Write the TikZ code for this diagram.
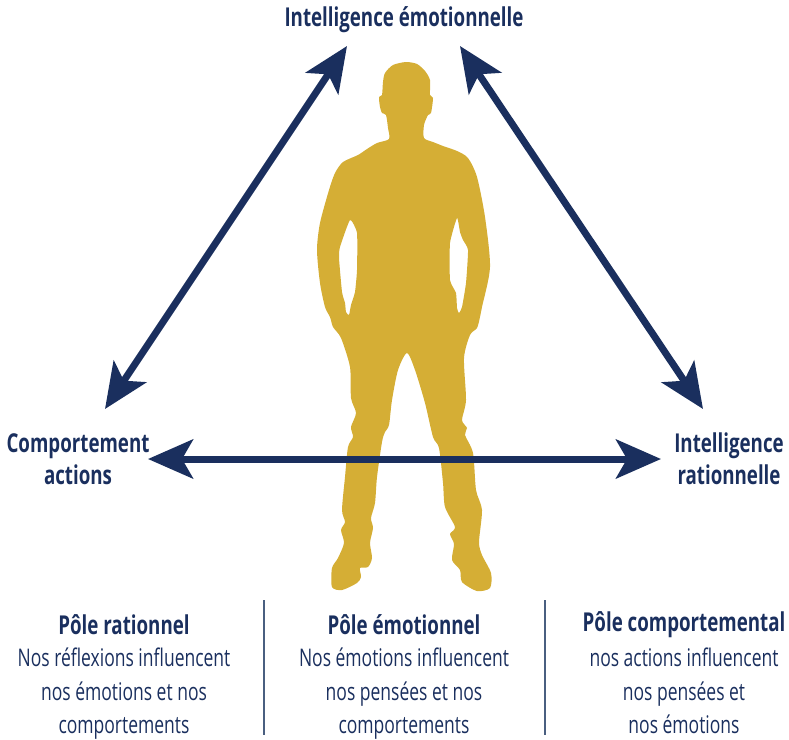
\documentclass[tikz,border=0pt]{standalone}
\usepackage{fontspec}
\usetikzlibrary{arrows.meta}
\setmainfont[FakeStretch=0.72]{Open Sans}
\definecolor{navy}{HTML}{1A2F5E}
\definecolor{gold}{HTML}{D5AE35}
\definecolor{rulecol}{HTML}{4A5F80}
\tikzset{
  dbl/.style={line width=7pt,draw=navy,{Stealth[length=45pt,width=39pt,inset=11pt,fill=navy]}-{Stealth[length=45pt,width=39pt,inset=11pt,fill=navy]}},
  head/.style={font=\fontsize{26}{32}\selectfont\bfseries,text=navy,align=center,inner sep=0pt},
  body/.style={font=\fontsize{24.3}{33.5}\selectfont,text=navy,align=center,inner sep=0pt,anchor=north},
  sep/.style={line width=1.4pt,draw=rulecol}
}
\begin{document}
\begin{tikzpicture}[x=1pt,y=-1pt]
\useasboundingbox (0,0) rectangle (789,739);
% silhouette
\fill[gold,even odd rule]
 plot[smooth cycle,tension=0.45] coordinates {
 (406,62)(393,65)(385,73)(383,82)(382,95)(379,97)(380,107)(382,113)(386,115)(388,128)(389,139)
 (377,143)(367,149)(358,155)(343,162)(335,173)(329,190)(320,223)(317,250)(320,283)(325,307)(330,317)
 (333,327)(341,338)(350,367)(351,398)(356,413)(351,427)(353,437)(348,447)(345,477)(342,510)(345,522)
 (341,530)(344,543)(338,558)(332,568)(332,587)(342,590)(357,583)(361,577)(360,568)(368,567)(372,558)
 (370,543)(373,528)(371,518)(375,503)(377,477)(382,442)(385,432)(389,425)(392,400)(398,370)(407,353)
 (415,370)(425,403)(433,437)(439,448)(443,483)(445,507)(455,527)(450,534)(454,544)(452,560)(460,570)
 (462,582)(477,591)(490,588)(491,573)(482,555)(479,542)(482,510)(476,490)(473,453)(465,435)(467,428)
 (462,420)(466,400)(464,358)(470,335)(477,328)(480,317)(482,307)(490,267)(485,217)(477,177)(468,158)
 (457,151)(443,146)(433,142)(424,138)(424,125)(428,115)(431,113)(433,98)(430,95)(430,80)(425,71)(417,64)}
 plot[smooth cycle,tension=0.3] coordinates {
 (350,220)(357,233)(357,270)(355,292)(351,305)(349,315)(346,312)(345,303)(342,292)(339,258)(340,247)}
 plot[smooth cycle,tension=0.3] coordinates {
 (457,218)(460,232)(463,240)(468,250)(466,283)(462,307)(459,313)(457,308)(456,293)(450,280)(450,243)};
% labels
\node[head] (emo) at (404,20) {Intelligence émotionnelle};
\node[head] (comp) at (78,459) {Comportement\\actions};
\node[head] (rat) at (729,459) {Intelligence\\rationnelle};
% connector ends
\coordinate (emoL) at (347,46);
\coordinate (emoR) at (460,46);
\coordinate (compU) at (105,409);
\coordinate (ratU) at (703,409);
\coordinate (compE) at (148,459);
\coordinate (ratW) at (661,459);
\draw[dbl] (emoL) -- (compU);
\draw[dbl] (emoR) -- (ratU);
\draw[dbl] (compE) -- (ratW);
% bottom columns
\node[head] (p1) at (124,625) {Pôle rationnel};
\node[head] (p2) at (404,625) {Pôle émotionnel};
\node[head] (p3) at (684,625) {Pôle comportemental};
\node[body] (t1) at (124,648) {Nos réflexions influencent\\nos émotions et nos\\comportements};
\node[body] (t2) at (404,648) {Nos émotions influencent\\nos pensées et nos\\comportements};
\node[body] (t3) at (684,648) {nos actions influencent\\nos pensées et\\nos émotions};
\coordinate (s1a) at (264,600);
\coordinate (s1b) at (264,735);
\coordinate (s2a) at (545,600);
\coordinate (s2b) at (545,735);
\draw[sep] (s1a) -- (s1b);
\draw[sep] (s2a) -- (s2b);
\end{tikzpicture}
\end{document}
